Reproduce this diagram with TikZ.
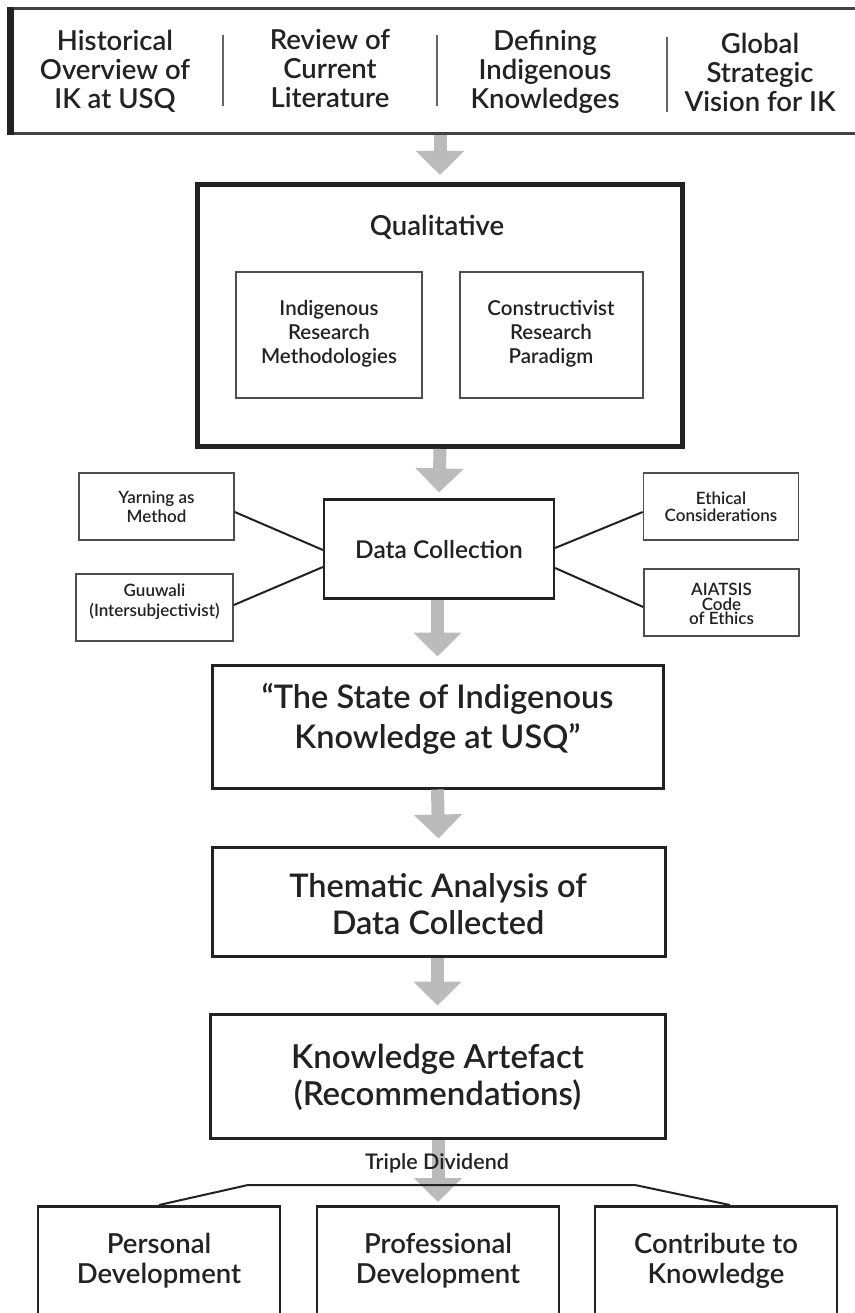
\documentclass[tikz,border=0pt]{standalone}
\usepackage{fontspec}
\IfFontExistsTF{Lato Semibold}{\setmainfont{Lato Semibold}}{\setmainfont{Lato}[FakeBold=2]}
\usetikzlibrary{arrows.meta,calc}
\definecolor{ink}{HTML}{222222}
\definecolor{arrowgray}{HTML}{BBBBBB}
\newcommand{\fs}[2]{\fontsize{#1}{#2}\selectfont}
\begin{document}
\begin{tikzpicture}[x=1pt,y=-1pt,
  box/.style={draw=ink,line width=3pt,rectangle,inner sep=0pt,align=center,text=ink},
  smallbox/.style={draw=ink!80,line width=1.6pt,rectangle,inner sep=0pt,align=center,text=ink},
  txt/.style={inner sep=0pt,align=center,text=ink},
  bigarrow/.style={arrowgray,line width=13pt,-{Triangle[width=47pt,length=24pt]}},
  link/.style={draw=ink,line width=2pt}]
\useasboundingbox (0,0) rectangle (854,1313);
\fill[white] (0,0) rectangle (854,1313);
% top banner
\node[box,line width=3pt,draw=ink!85,minimum width=870pt,minimum height=125pt,anchor=north west] (top) at (10,7) {};
\draw[ink,line width=7pt] (top.north west) -- (top.south west);
\node[txt,font=\fs{27.5}{29}] (c1) at (115,71) {Historical\\Overview of\\IK at USQ};
\node[txt,font=\fs{27.5}{29}] (c2) at (330,68) {Review of\\Current\\Literature};
\node[txt,font=\fs{27.5}{29}] (c3) at (545,72) {Defining\\Indigenous\\Knowledges};
\node[txt,font=\fs{27.5}{29}] (c4) at (760,72) {Global\\Strategic\\Vision for IK};
\coordinate (d1a) at (223,35); \coordinate (d1b) at (223,106);
\coordinate (d2a) at (437,35); \coordinate (d2b) at (437,106);
\coordinate (d3a) at (667,37); \coordinate (d3b) at (667,112);
\draw[ink!70,line width=1.3pt] (d1a) -- (d1b) (d2a) -- (d2b) (d3a) -- (d3b);
% qualitative
\node[box,line width=5pt,minimum width=485pt,minimum height=262pt,anchor=north west] (qual) at (195,182) {};
\node[txt,font=\fs{27.5}{30}] (qt) at (437,227) {Qualitative};
\node[smallbox,line width=2pt,minimum width=186pt,minimum height=125pt] (irm) at (329,335) {};
\node[txt,font=\fs{20.5}{24}] at (329,334) {Indigenous\\Research\\Methodologies};
\node[smallbox,line width=2pt,minimum width=183pt,minimum height=126pt] (crp) at (551,335) {};
\node[txt,font=\fs{20.5}{24}] at (551,334) {Constructivist\\Research\\Paradigm};
% data collection
\node[box,line width=2.2pt,minimum width=230pt,minimum height=99pt] (dc) at (439,549) {};
\node[txt,font=\fs{24.5}{28}] at (439,550) {Data Collection};
\node[smallbox,minimum width=155pt,minimum height=67pt] (yarn) at (156.5,506.5) {};
\node[txt,font=\fs{17}{19}] at (156.5,507) {Yarning as\\Method};
\node[smallbox,minimum width=157pt,minimum height=67pt] (guu) at (154.5,607.5) {};
\node[txt,font=\fs{17}{20}] at (154.5,602) {Guuwali\\(Intersubjectivist)};
\node[smallbox,minimum width=155pt,minimum height=67pt] (eth) at (721,506.5) {};
\node[txt,font=\fs{17}{17}] at (721,506.5) {Ethical\\Considerations};
\node[smallbox,minimum width=155pt,minimum height=67pt] (aia) at (721.5,602.5) {};
\node[txt,font=\fs{17}{14.5}] at (721.5,604) {AIATSIS\\Code\\of Ethics};
\draw[link] (yarn.east |- 0,512) -- (dc.west |- 0,550);
\draw[link] (guu.east |- 0,605) -- (dc.west |- 0,567);
\draw[link] (eth.west |- 0,512) -- (dc.east |- 0,548);
\draw[link] (aia.west |- 0,607) -- (dc.east |- 0,568);
% main chain
\node[box,minimum width=451pt,minimum height=123pt] (state) at (437.5,726.5) {};
\node[txt,font=\fs{32.5}{40}] at (437.5,719) {“The State of Indigenous\\Knowledge at USQ”};
\node[box,minimum width=453pt,minimum height=109pt] (them) at (438.5,901.5) {};
\node[txt,font=\fs{32.5}{37}] at (438,904) {Thematic Analysis of\\Data Collected};
\node[box,minimum width=455pt,minimum height=124pt] (ka) at (437.5,1076) {};
\node[txt,font=\fs{33}{37}] at (437.5,1077) {Knowledge Artefact\\(Recommendations)};
% bottom boxes
\node[box,line width=2.5pt,minimum width=242pt,minimum height=130pt,anchor=north] (pers) at (159,1205) {};
\node[box,line width=2.5pt,minimum width=242pt,minimum height=130pt,anchor=north] (prof) at (438,1205) {};
\node[box,line width=2.5pt,minimum width=242pt,minimum height=130pt,anchor=north] (cont) at (716,1205) {};
\node[txt,font=\fs{27.5}{30}] at (159,1261) {Personal\\Development};
\node[txt,font=\fs{27.5}{30}] at (438,1261) {Professional\\Development};
\node[txt,font=\fs{27.5}{30}] at (716,1261) {Contribute to\\Knowledge};
% arrows
\draw[bigarrow] (top.south -| qual.north) -- ([yshift=7pt]qual.north);
\draw[bigarrow] (qual.south) -- ([yshift=6pt]dc.north);
\draw[bigarrow] (dc.south -| state.north) -- ([yshift=7pt]state.north);
\draw[bigarrow] (state.south) -- ([yshift=7pt]them.north);
\draw[bigarrow] (them.south -| ka.north) -- ([yshift=7pt]ka.north);
\draw[bigarrow] (ka.south -| prof.north) -- ([yshift=3pt]prof.north);
% triple dividend
\node[txt,font=\fs{21.5}{24}] (td) at (437,1163) {Triple Dividend};
\coordinate (hl) at (248,1185); \coordinate (hr) at (635,1185);
\draw[link] (pers.north |- 0,1205) -- (hl) -- (hr) -- (730,1205);
\end{tikzpicture}
\end{document}
